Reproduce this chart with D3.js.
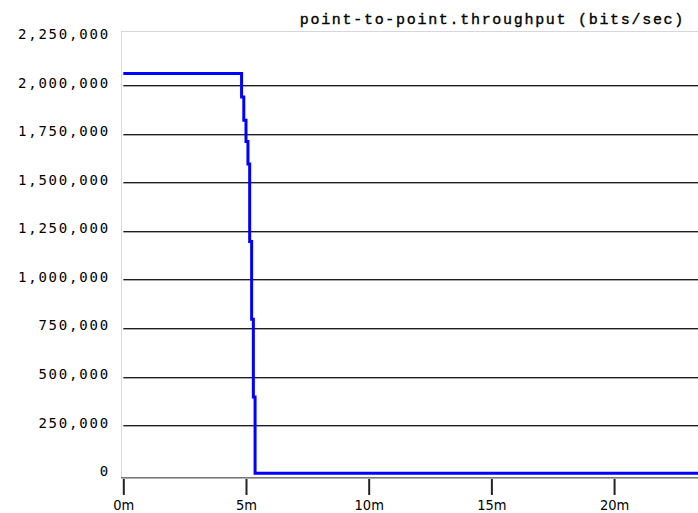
<!DOCTYPE html>
<html>
<head>
<meta charset="utf-8">
<script src="https://cdn.jsdelivr.net/npm/d3@7"></script>
<style>
  html, body { margin: 0; padding: 0; background: #fff; }
  svg { display: block; }
</style>
</head>
<body>
<script>
// Sampled throughput of the point-to-point link (minutes, bits/sec)
const timeMinutes = [0, 4.82, 4.91, 5.00, 5.08, 5.15, 5.23, 5.30, 5.37, 23.42];
const throughput  = [2065000, 1945000, 1825000, 1715000, 1600000, 1200000, 800000, 400000, 7000, 7000];

const yTickValues = [0, 250000, 500000, 750000, 1000000, 1250000, 1500000, 1750000, 2000000, 2250000];
const xTickValues = [0, 5, 10, 15, 20];
const chartTitle = "point-to-point.throughput (bits/sec)";

const W = 698, H = 513;
const plotLeft = 121, plotTop = 31, axisY = 478;

const svg = d3.select("body").append("svg")
  .attr("width", W).attr("height", H);

const x = d3.scaleLinear().domain([0, 23.42]).range([123.3, W]);
const y = d3.scaleLinear().domain([0, 2250000]).range([474.6, 37.7]);

const fmt = d3.format(",");

// Frame of the plot area
svg.append("line")
  .attr("x1", plotLeft + 0.5).attr("x2", plotLeft + 0.5)
  .attr("y1", plotTop).attr("y2", axisY)
  .attr("stroke", "#d9d9ec").attr("stroke-width", 1);
svg.append("line")
  .attr("x1", plotLeft).attr("x2", W)
  .attr("y1", plotTop + 0.5).attr("y2", plotTop + 0.5)
  .attr("stroke", "#d6d6e0").attr("stroke-width", 1);

// Horizontal grid lines (skip the zero line and the top label)
const gridVals = yTickValues.filter(v => v > 0 && v < 2250000);
const grid = svg.append("g");
grid.selectAll("line.dark").data(gridVals).enter().append("line")
  .attr("class", "dark")
  .attr("x1", x(0)).attr("x2", W)
  .attr("y1", d => Math.round(y(d)) - 0.5).attr("y2", d => Math.round(y(d)) - 0.5)
  .attr("stroke", "#1e1e1e").attr("stroke-width", 1);
grid.selectAll("line.light").data(gridVals).enter().append("line")
  .attr("class", "light")
  .attr("x1", x(0)).attr("x2", W)
  .attr("y1", d => Math.round(y(d)) + 0.5).attr("y2", d => Math.round(y(d)) + 0.5)
  .attr("stroke", "#a8a8a8").attr("stroke-width", 1);

// Y axis labels
svg.append("g").selectAll("text").data(yTickValues).enter().append("text")
  .attr("x", 110)
  .attr("y", d => y(d) + 1.5)
  .attr("text-anchor", "end")
  .attr("font-family", "'DejaVu Sans Mono', monospace")
  .attr("font-size", 14)
  .attr("letter-spacing", 1.8)
  .attr("fill", "#000")
  .text(d => fmt(d));

// X axis
const xAxis = d3.axisBottom(x)
  .tickValues(xTickValues)
  .tickSize(17)
  .tickPadding(6)
  .tickFormat(d => d + "m");
const gx = svg.append("g")
  .attr("transform", `translate(0,${axisY})`)
  .call(xAxis);
gx.select(".domain").remove();
gx.selectAll(".tick line").attr("stroke", "#222").attr("stroke-width", 2);
gx.selectAll(".tick text")
  .attr("font-family", "'DejaVu Sans Condensed', 'DejaVu Sans', sans-serif")
  .attr("font-size", 14.5)
  .attr("fill", "#000")
  .attr("dy", "0.6em");

svg.append("line")
  .attr("x1", plotLeft).attr("x2", W)
  .attr("y1", axisY - 0.5).attr("y2", axisY - 0.5)
  .attr("stroke", "#777").attr("stroke-width", 1);
svg.append("line")
  .attr("x1", plotLeft).attr("x2", W)
  .attr("y1", axisY + 0.5).attr("y2", axisY + 0.5)
  .attr("stroke", "#b0b0b0").attr("stroke-width", 1);

// Throughput series
const series = timeMinutes.map((t, i) => ({ t, v: throughput[i] }));
const line = d3.line()
  .x(d => x(d.t))
  .y(d => y(d.v))
  .curve(d3.curveStepAfter);
svg.append("path")
  .datum(series)
  .attr("d", line)
  .attr("fill", "none")
  .attr("stroke", "#0000ff")
  .attr("stroke-width", 3);

// Title
svg.append("text")
  .attr("x", 685)
  .attr("y", 24)
  .attr("text-anchor", "end")
  .attr("font-family", "'Liberation Mono', 'Courier New', monospace")
  .attr("font-size", 15)
  .attr("letter-spacing", 1.7)
  .attr("stroke", "#000")
  .attr("stroke-width", 0.35)
  .attr("fill", "#000")
  .text(chartTitle);
</script>
</body>
</html>
